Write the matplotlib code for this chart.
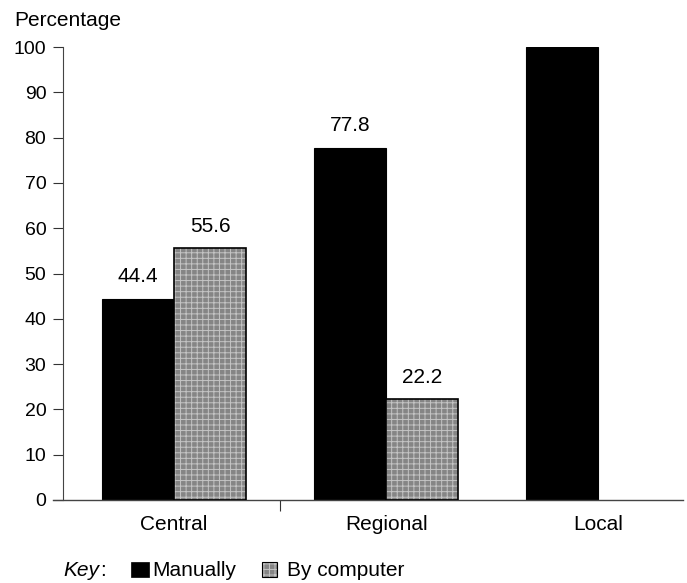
import matplotlib
matplotlib.use("Agg")
import matplotlib.pyplot as plt
from matplotlib.patches import Rectangle

plt.rcParams['font.family'] = ['Liberation Sans', 'DejaVu Sans']
plt.rcParams['hatch.linewidth'] = 0.7

# Data
categories = ["Central", "Regional", "Local"]
manually = [44.4, 77.8, 100.0]
by_computer = [55.6, 22.2, 0.0]
manual_labels = ["44.4", "77.8", None]
computer_labels = ["55.6", "22.2", None]
y_ticks = [0, 10, 20, 30, 40, 50, 60, 70, 80, 90, 100]

W, H = 687, 583
fig = plt.figure(figsize=(W / 100, H / 100), dpi=100)
ax = fig.add_axes([63 / W, 1 - 500 / H, (683 - 63) / W, (500 - 47) / H])

bw = 0.34
gray = "#858585"
hatch_col = "#c4c4c4"
x = list(range(len(categories)))
xm = [i - bw / 2 for i in x]
xc = [i + bw / 2 for i in x]

ax.bar(xm, manually, width=bw, color="black", edgecolor="black", linewidth=0.8, zorder=2)
# stippled grey bars: hatched fill plus a black outline (empty values are skipped)
for xi, v in zip(xc, by_computer):
    if v <= 0:
        continue
    ax.bar(xi, v, width=bw, color=gray, edgecolor=hatch_col, hatch="+++",
           linewidth=0, zorder=2)
    ax.bar(xi, v, width=bw, fill=False, edgecolor="black", linewidth=1.2, zorder=3)

for xi, v, lab in zip(xm, manually, manual_labels):
    if lab:
        ax.annotate(lab, (xi, v), xytext=(0, 9), textcoords="offset points",
                    ha="center", va="bottom", fontsize=15)
for xi, v, lab in zip(xc, by_computer, computer_labels):
    if lab:
        ax.annotate(lab, (xi, v), xytext=(0, 9), textcoords="offset points",
                    ha="center", va="bottom", fontsize=15)

ax.set_ylim(0, 100)
ax.set_xlim(-0.5236, 2.40)
ax.set_yticks(y_ticks)
ax.tick_params(axis="y", length=7, width=0.8, pad=5, labelsize=14, color="#333333")
ax.set_xticks(x)
ax.set_xticklabels(categories, fontsize=15)
ax.tick_params(axis="x", length=0, pad=11)
ax.set_xticks([0.5], minor=True)
ax.tick_params(axis="x", which="minor", length=8, width=0.8, color="#333333")

for s in ("top", "right"):
    ax.spines[s].set_visible(False)
ax.spines["left"].set_linewidth(0.8)
ax.spines["left"].set_color("#444444")
ax.spines["bottom"].set_linewidth(1.0)
ax.spines["bottom"].set_color("#444444")
ax.spines["bottom"].set_bounds(-0.5236 - 10 / 212, 2.40)
ax.spines["bottom"].set_clip_on(False)

fig.text(14 / W, 1 - 20 / H, "Percentage", fontsize=15, ha="left", va="center")

# key
ky = 1 - 571 / H
fig.text(63 / W, ky, "Key", fontsize=15, style="italic", ha="left", va="center")
fig.text(100 / W, ky, ":", fontsize=15, ha="left", va="center")
fig.patches.append(Rectangle((131 / W, 1 - 577 / H), 18 / W, 15 / H,
                             transform=fig.transFigure, facecolor="black",
                             edgecolor="black", linewidth=0.5))
fig.text(152 / W, ky, "Manually", fontsize=15, ha="left", va="center")
fig.patches.append(Rectangle((262 / W, 1 - 577 / H), 15 / W, 15 / H,
                             transform=fig.transFigure, facecolor=gray,
                             edgecolor=hatch_col, hatch="+++", linewidth=0))
fig.patches.append(Rectangle((262 / W, 1 - 577 / H), 15 / W, 15 / H,
                             transform=fig.transFigure, fill=False,
                             edgecolor="black", linewidth=0.8))
fig.text(287 / W, ky, "By computer", fontsize=15, ha="left", va="center")

fig.savefig("out.png", dpi=100)
